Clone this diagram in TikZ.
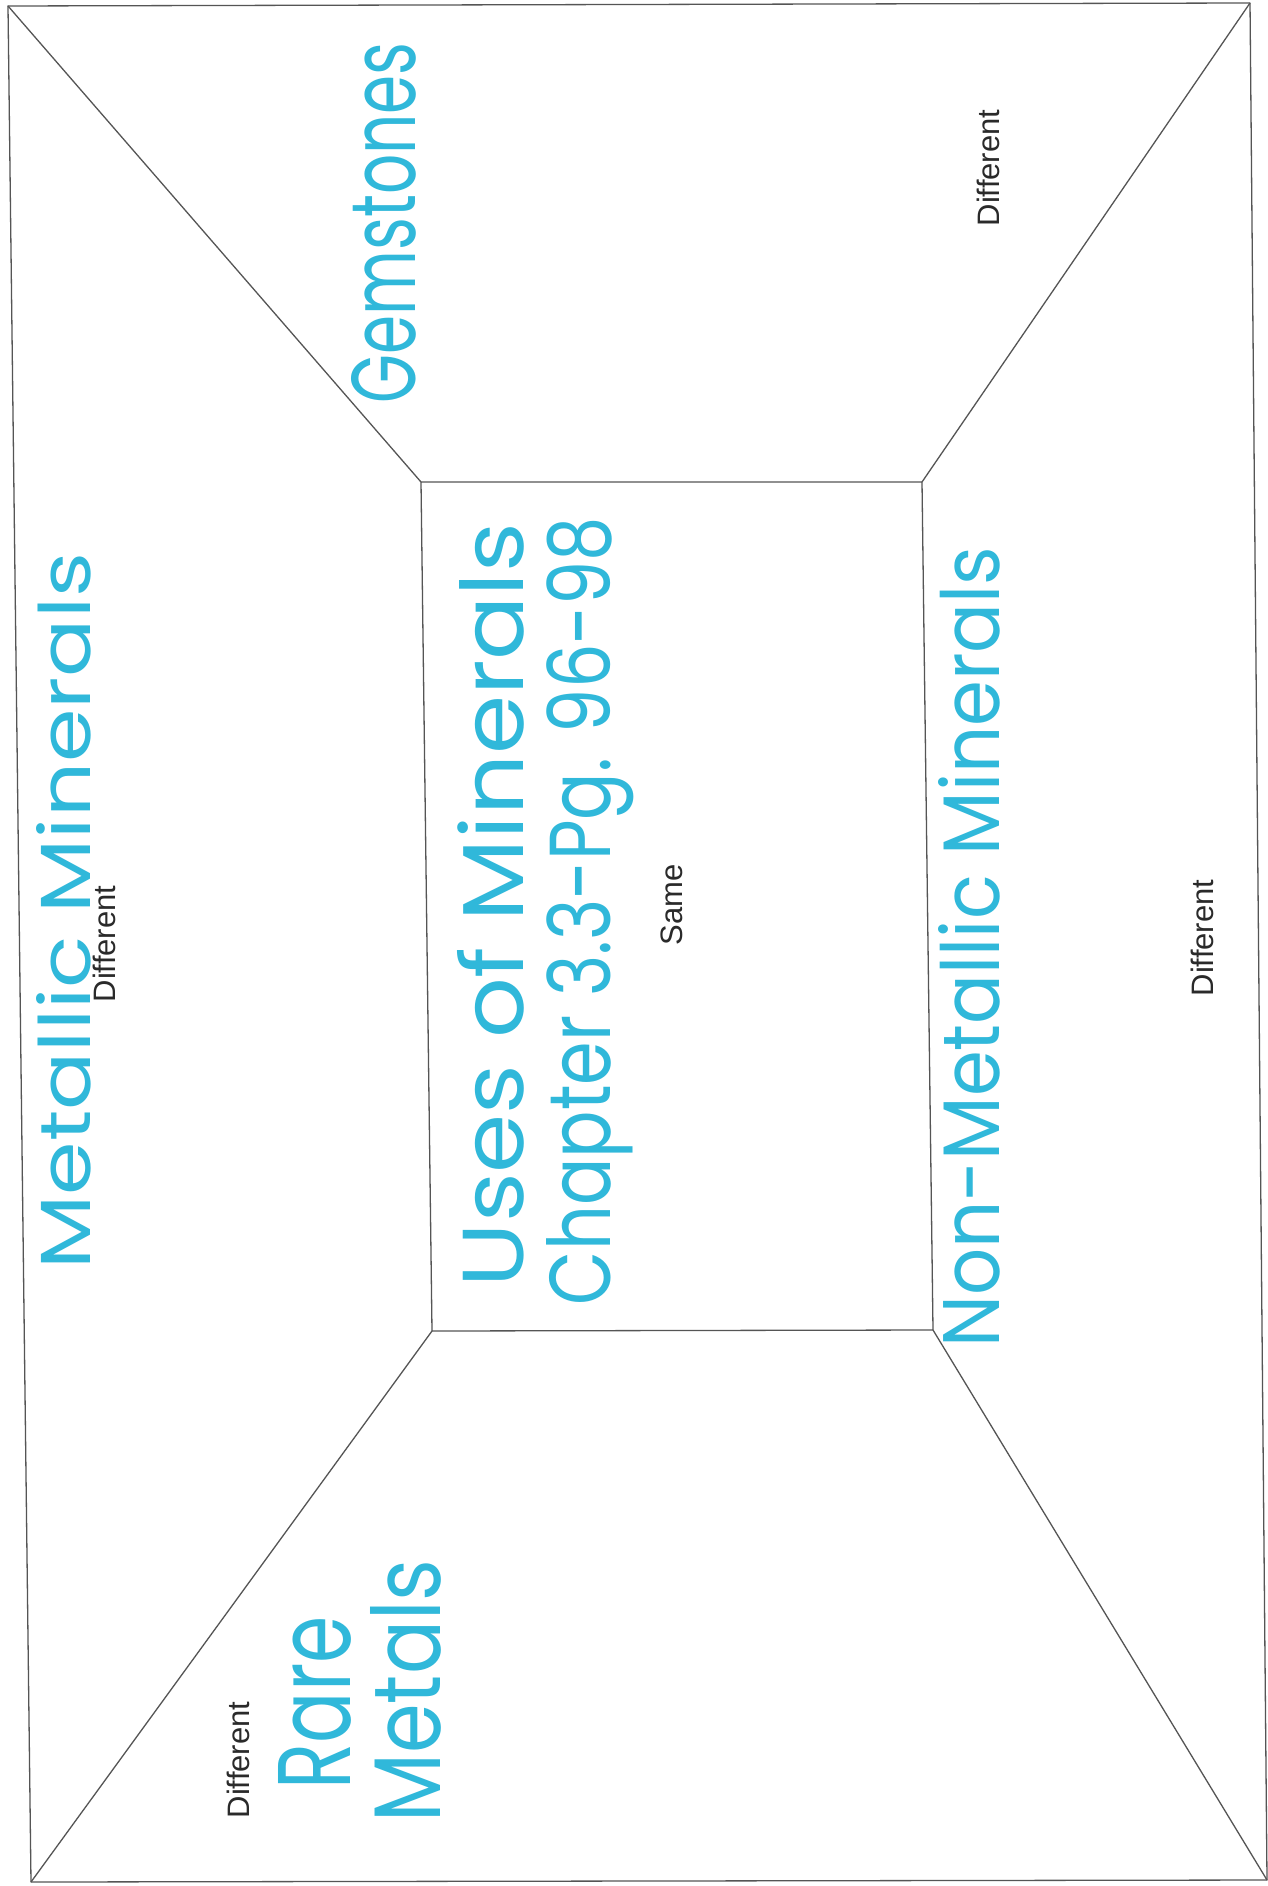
\documentclass[tikz,border=0pt]{standalone}
\usepackage{fontspec}
\setmainfont{Liberation Sans}
\newfontfamily\hw{Poppins}
\usepackage{graphicx}
\definecolor{hwblue}{HTML}{30B8DA}
\definecolor{linegray}{HTML}{555555}
\definecolor{txtgray}{HTML}{2A2A2A}
\begin{document}
\begin{tikzpicture}[x=1pt,y=-1pt,
  frame/.style={draw=linegray,line width=1.3pt,line join=round},
  hwtext/.style={inner sep=0pt,anchor=base,rotate=90,text=hwblue},
  lbl/.style={inner sep=0pt,anchor=base,rotate=90,text=txtgray,font=\fontsize{31}{31}\selectfont}]
\fill[white] (0,0) rectangle (1267,1886);
\useasboundingbox (0,0) rectangle (1267,1886);
% outer corners
\coordinate (oTL) at (8,6);
\coordinate (oTR) at (1250,3);
\coordinate (oBR) at (1267,1880);
\coordinate (oBL) at (31,1882);
% inner corners
\coordinate (iTL) at (421,482);
\coordinate (iTR) at (922,482);
\coordinate (iBR) at (933,1330);
\coordinate (iBL) at (432,1331);
\draw[frame] (oTL) -- (oTR) -- (oBR) -- (oBL) -- cycle;
\draw[frame] (iTL) -- (iTR) -- (iBR) -- (iBL) -- cycle;
\draw[frame] (oTL) -- (iTL);
\draw[frame] (oTR) -- (iTR);
\draw[frame] (oBR) -- (iBR);
\draw[frame] (oBL) -- (iBL);
% handwritten titles
\node[hwtext] (metallic) at (90,911) {\resizebox{716pt}{54pt}{\hw Metallic Minerals}};
\node[hwtext] (gems) at (415,223) {\resizebox{361pt}{64pt}{\hw Gemstones}};
\node[hwtext] (uses) at (523,905) {\resizebox{764pt}{66pt}{\hw Uses of Minerals}};
\node[hwtext] (chapter) at (610,911) {\resizebox{788pt}{64pt}{\hw Chapter 3.3-Pg. 96-98}};
\node[hwtext] (nonmet) at (999,947) {\resizebox{801pt}{61pt}{\hw Non-Metallic Minerals}};
\node[hwtext] (rare) at (350,1703) {\resizebox{173pt}{72pt}{\hw Rare}};
\node[hwtext] (metals) at (440,1691) {\resizebox{263pt}{70pt}{\hw Metals}};
% printed labels
\node[lbl] (dleft) at (115,944) {Different};
\node[lbl] (dtr) at (999,168) {Different};
\node[lbl] (dright) at (1213,938) {Different};
\node[lbl] (dbl) at (249,1760) {Different};
\node[lbl] (same) at (682,905) {Same};
\end{tikzpicture}
\end{document}
